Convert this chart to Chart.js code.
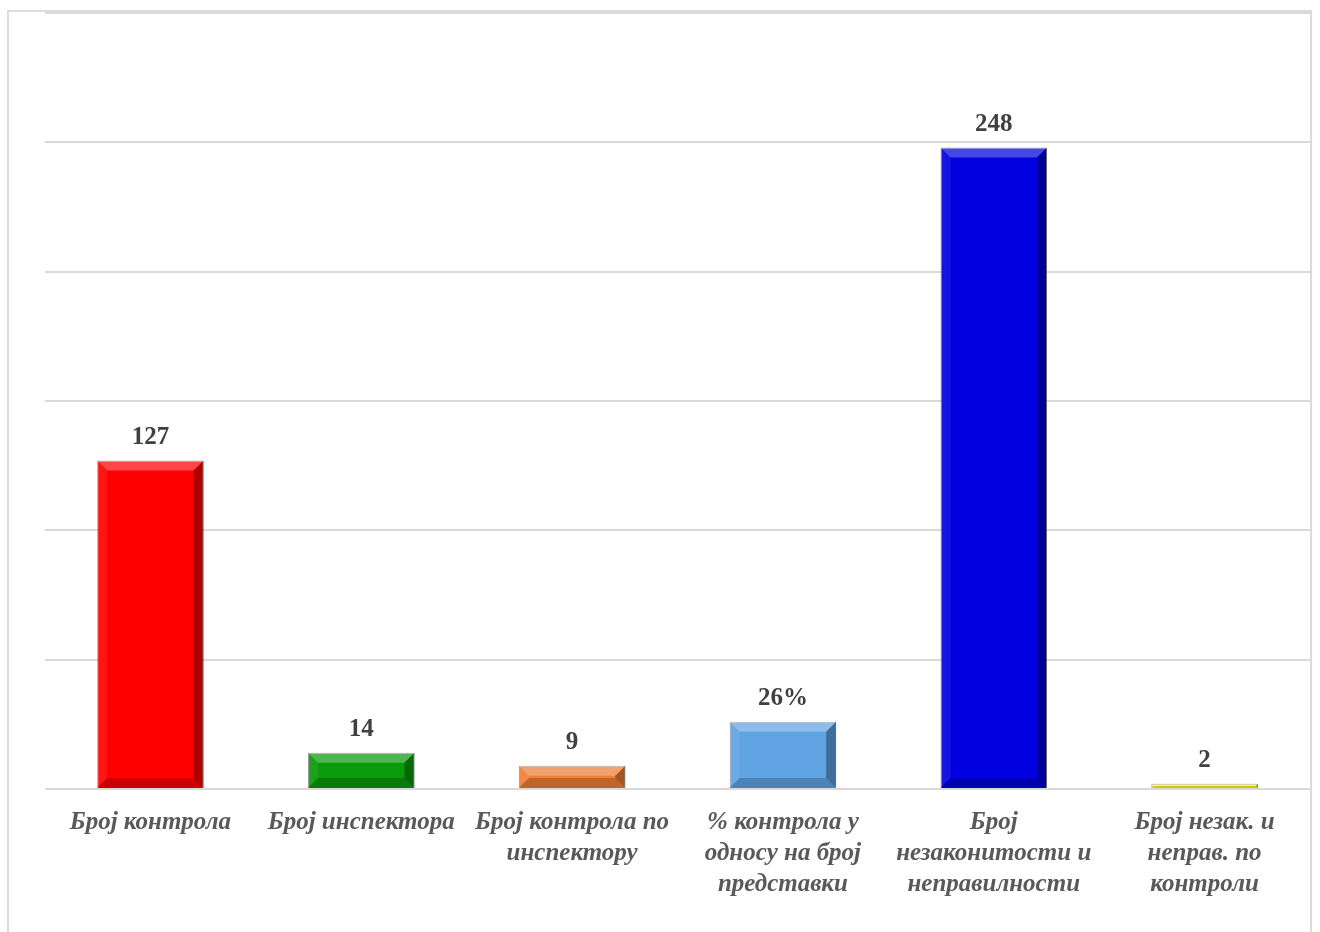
<!DOCTYPE html>
<html lang="ru">
<head>
<meta charset="utf-8">
<script src="https://cdn.jsdelivr.net/npm/chart.js@4.4.1/dist/chart.umd.min.js"></script>
<style>
  html, body { margin: 0; padding: 0; background: #ffffff; }
  #wrap { position: relative; width: 1320px; height: 932px; }
  #frame { position: absolute; left: 7px; top: 10px; width: 1305px; height: 940px;
           border: 2px solid #dcdcdc; border-bottom: none; box-sizing: border-box; }
  canvas { position: absolute; left: 0; top: 0; }
</style>
</head>
<body>
<div id="wrap">
  <div id="frame"></div>
  <canvas id="c" width="1320" height="932" lang="ru"></canvas>
</div>
<script>
const categories = [
  "Број контрола",
  "Број инспектора",
  ["Број контрола по", "инспектору"],
  ["% контрола у", "односу на број", "представки"],
  ["Број", "незаконитости и", "неправилности"],
  ["Број незак. и", "неправ. по", "контроли"]
];
const values = [127, 14, 9, 26, 248, 2];
const valueSuffix = ["", "", "", "%", "", ""];
const barColors = ["#ff0000", "#0a9a0a", "#ee7f35", "#5fa3e3", "#0000e0", "#ffff00"];
const yTicks = [0, 50, 100, 150, 200, 250, 300];

const bevelPlugin = {
  id: 'bevel',
  afterDatasetsDraw(chart) {
    const ctx = chart.ctx;
    const meta = chart.getDatasetMeta(0);
    meta.data.forEach((bar) => {
      const p = bar.getProps(['x', 'y', 'base', 'width'], true);
      const L = p.x - p.width / 2, R = p.x + p.width / 2;
      const T = Math.min(p.y, p.base), B = Math.max(p.y, p.base);
      const b = Math.min(10, (B - T) / 2);
      if (b <= 0) return;
      const poly = (pts, fill) => {
        ctx.beginPath();
        ctx.moveTo(pts[0][0], pts[0][1]);
        for (let i = 1; i < pts.length; i++) ctx.lineTo(pts[i][0], pts[i][1]);
        ctx.closePath();
        ctx.fillStyle = fill;
        ctx.fill();
      };
      ctx.save();
      poly([[L, T], [R, T], [R - b, T + b], [L + b, T + b]], 'rgba(255,255,255,0.28)');
      poly([[L, T], [L + b, T + b], [L + b, B - b], [L, B]], 'rgba(255,255,255,0.08)');
      poly([[R, T], [R, B], [R - b, B - b], [R - b, T + b]], 'rgba(0,0,0,0.32)');
      poly([[L, B], [R, B], [R - b, B - b], [L + b, B - b]], 'rgba(0,0,0,0.20)');
      ctx.restore();
    });
  }
};

const valueLabelPlugin = {
  id: 'valueLabels',
  afterDatasetsDraw(chart) {
    const ctx = chart.ctx;
    const meta = chart.getDatasetMeta(0);
    ctx.save();
    ctx.font = 'bold 25px "Liberation Serif", "Times New Roman", serif';
    ctx.fillStyle = '#404040';
    ctx.textAlign = 'center';
    ctx.textBaseline = 'middle';
    meta.data.forEach((bar, i) => {
      ctx.fillText(String(values[i]) + valueSuffix[i], bar.x, bar.y - 23);
    });
    ctx.restore();
  }
};

new Chart(document.getElementById('c'), {
  type: 'bar',
  data: {
    labels: categories,
    datasets: [{
      data: values,
      backgroundColor: barColors,
      borderColor: 'rgba(60,60,60,0.55)',
      borderWidth: 1,
      categoryPercentage: 1.0,
      barPercentage: 0.505
    }]
  },
  options: {
    responsive: false,
    animation: false,
    devicePixelRatio: 1,
    layout: { padding: { left: 45, right: 10, top: 13, bottom: 0 } },
    plugins: {
      legend: { display: false },
      tooltip: { enabled: false }
    },
    scales: {
      x: {
        grid: { display: false, drawTicks: false },
        border: { display: false },
        ticks: {
          padding: 18,
          color: '#595959',
          maxRotation: 0,
          autoSkip: false,
          font: { family: '"Liberation Serif", "Times New Roman", serif', size: 25, style: 'italic', weight: 'bold', lineHeight: 1.24 }
        },
        afterFit(scale) { scale.height = 143; }
      },
      y: {
        min: yTicks[0],
        max: yTicks[yTicks.length - 1],
        afterBuildTicks(scale) { scale.ticks = yTicks.map(v => ({ value: v })); },
        grid: { color: '#d9d9d9', lineWidth: 2, drawTicks: false },
        border: { display: false },
        ticks: { display: false }
      }
    }
  },
  plugins: [bevelPlugin, valueLabelPlugin]
});
</script>
</body>
</html>
